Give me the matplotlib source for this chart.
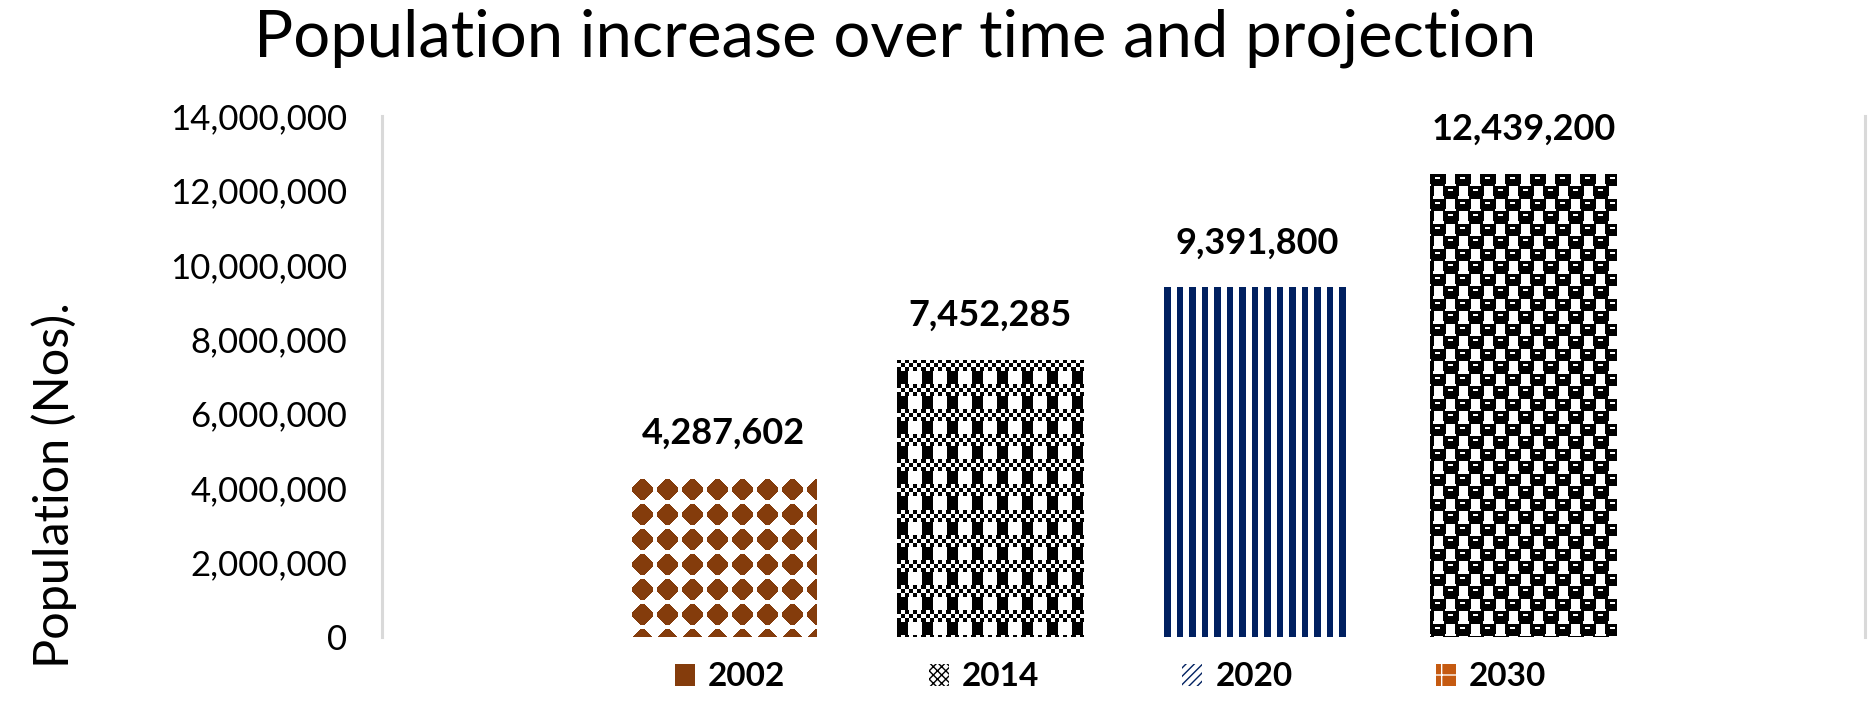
import numpy as np
import matplotlib.pyplot as plt
from matplotlib.colors import to_rgb
from matplotlib.patches import Patch
from matplotlib.ticker import FuncFormatter

# data
years = ['2002', '2014', '2020', '2030']
population = [4287602, 7452285, 9391800, 12439200]
yticks = [0, 2000000, 4000000, 6000000, 8000000, 10000000, 12000000, 14000000]

brown = '#843C0C'
navy = '#002060'
orange = '#C55A11'

plt.rcParams['font.family'] = ['Lato', 'DejaVu Sans']

W, H = 1869, 724
fig = plt.figure(figsize=(W / 100, H / 100), dpi=100)
ax = fig.add_axes([382 / W, 1 - 637 / H, (1865 - 382) / W, 521 / H])
ax.set_xlim(-1.28, 4.28)
ax.set_ylim(0, 14000000)


def texture(kind, nx, ny, color):
    # pixel pattern fill (like Excel pattern fills), 1 cell = 1 screen pixel
    jj, ii = np.meshgrid(np.arange(nx), np.arange(ny))
    if kind == 'diamond':
        u = (jj % 25) - 12
        v = (ii % 25) - 12
        on = (np.abs(u) + np.abs(v) <= 12) & (np.maximum(np.abs(u), np.abs(v)) <= 10)
    elif kind == 'weave':
        u = jj % 25
        v = ii % 25
        checker = ((u // 4 + v // 4) % 2 == 0) & (v < 12)
        column = (v >= 12) & (u < 11)
        on = checker | column
    elif kind == 'stripes':
        on = (jj * 2) % 25 < 13
    else:  # 'sphere'
        band = (ii % 25) >= 12
        vv = ii % 25 - 12 * band
        uu = (jj + 12 * band) % 25
        blob = (uu < 16) & ~(((uu < 1) | (uu >= 15)) & (vv >= 10))
        shine = (uu >= 5) & (uu < 10) & (vv >= 3) & (vv < 5)
        on = blob & ~shine
    img = np.ones((ny, nx, 3))
    img[on] = to_rgb(color)
    return img


x = np.arange(len(years))
bars = ax.bar(x, population, width=0.7, color='none', edgecolor='none')

kinds = ['diamond', 'weave', 'stripes', 'sphere']
colors = [brown, 'black', navy, 'black']
for bar, kind, c in zip(bars, kinds, colors):
    x0, w, h = bar.get_x(), bar.get_width(), bar.get_height()
    (px0, py0), (px1, py1) = ax.transData.transform([(x0, 0), (x0 + w, h)])
    nx, ny = int(round(px1 - px0)), int(round(py1 - py0))
    im = ax.imshow(texture(kind, nx, ny, c), extent=(x0, x0 + w, 0, h),
                   aspect='auto', interpolation='nearest', zorder=2)
    im.set_clip_path(bar)

ax.set_xlim(-1.28, 4.28)
ax.set_ylim(0, 14000000)

for xi, v in zip(x, population):
    ax.annotate(f'{v:,}', xy=(xi, v), xytext=(0, 32), textcoords='offset points',
                ha='center', va='center', fontsize=26, fontweight='bold')

ax.set_yticks(yticks)
ax.yaxis.set_major_formatter(FuncFormatter(lambda val, pos: f'{val:,.0f}'))
ax.set_xticks([])
ax.tick_params(axis='y', length=0, pad=25, labelsize=25)
for side in ['top', 'bottom']:
    ax.spines[side].set_visible(False)
for side in ['left', 'right']:
    ax.spines[side].set_color('#D9D9D9')
    ax.spines[side].set_linewidth(2.2)

fig.text(895 / W, 1 - 38 / H, 'Population increase over time and projection',
         ha='center', va='center', fontsize=47)
fig.text(54 / W, 1 - 485 / H, 'Population (Nos).', rotation=90,
         ha='center', va='center', fontsize=35)

# legend swatches
handles = [
    Patch(facecolor=brown, linewidth=0),
    Patch(facecolor='white', edgecolor='black', hatch='xxxx', linewidth=0),
    Patch(facecolor='white', edgecolor=navy, hatch='////', linewidth=0),
    Patch(facecolor=orange, edgecolor='white', hatch='+', linewidth=0),
]
fig.legend(handles, years, loc='center left', bbox_to_anchor=(675 / W, 1 - 677 / H),
           ncol=4, frameon=False, borderpad=0, borderaxespad=0,
           prop={'weight': 'bold', 'size': 24}, handlelength=0.6, handleheight=0.63,
           handletextpad=0.39, columnspacing=4.3)

fig.savefig('out.png', dpi=100)
